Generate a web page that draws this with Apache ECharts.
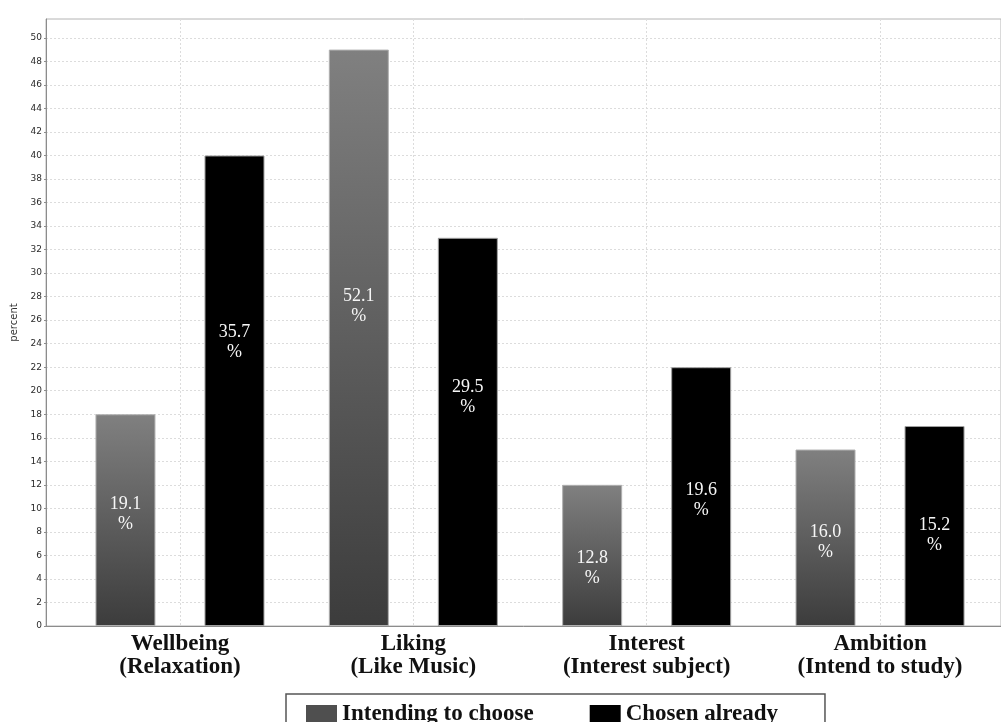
<!DOCTYPE html>
<html>
<head>
<meta charset="utf-8">
<script src="https://cdn.jsdelivr.net/npm/echarts@6/dist/echarts.min.js"></script>
<style>
  html, body { margin: 0; padding: 0; background: #ffffff; }
  #chart { width: 1001px; height: 722px; }
</style>
</head>
<body>
<div id="chart"></div>
<script>
// Reasons for choosing music, two-line category labels
const categories = [
  'Wellbeing\n(Relaxation)',
  'Liking\n(Like Music)',
  'Interest\n(Interest subject)',
  'Ambition\n(Intend to study)'
];
const seriesNames = ['Intending to choose', 'Chosen already'];

// Bar heights on the "percent" axis
const intendingBars = [18, 49, 12, 15];
const chosenBars = [40, 33, 22, 17];

// Shares printed inside each bar
const intendingShare = [19.1, 52.1, 12.8, 16.0];
const chosenShare = [35.7, 29.5, 19.6, 15.2];

// Value axis range and tick step
const yMin = 0;
const yMax = 51.6;
const yStep = 2;

// Vertical nudge (px) of each in-bar label from the bar middle
const intendingLabelShift = [-6, -32, 13, 4];
const chosenLabelShift = [-48, -35, 4, 9];

const serif = 'Liberation Serif, Times New Roman, serif';
const sans = 'DejaVu Sans, sans-serif';

// Plot band geometry: frame starts at the value axis, bars sit in four equal bands
const frameLeft = 46;
const bandLeft = 63.3;
const bandRight = 4.3;
const plotTop = 19;
const plotBottom = 96;
const bandWidth = (1001 - bandLeft - bandRight) / categories.length;

function shareLabel(shares) {
  return p => shares[p.dataIndex].toFixed(1) + '\n%';
}

function barData(values, shifts) {
  return values.map((v, i) => ({ value: v, label: { offset: [0, shifts[i]] } }));
}

const barLabel = {
  show: true,
  position: 'inside',
  color: '#f6f6f6',
  fontFamily: serif,
  fontSize: 18,
  lineHeight: 20
};

const chart = echarts.init(document.getElementById('chart'), null, { renderer: 'canvas' });

chart.setOption({
  animation: false,
  backgroundColor: '#ffffff',
  grid: [
    // frame, value axis and horizontal grid
    { left: frameLeft, right: -2, top: plotTop, bottom: plotBottom, show: true, borderColor: '#b4b4b4', borderWidth: 1 },
    // category bands holding the bars
    { left: bandLeft, right: bandRight, top: plotTop, bottom: plotBottom },
    // vertical guides through the band centres
    { left: bandLeft + bandWidth / 2, right: bandRight + bandWidth / 2, top: plotTop, bottom: plotBottom }
  ],
  xAxis: [
    {
      gridIndex: 0, type: 'value', min: 0, max: 1,
      axisLine: { show: true, lineStyle: { color: '#8c8c8c', width: 1 } },
      axisTick: { show: false }, axisLabel: { show: false }, splitLine: { show: false }
    },
    {
      gridIndex: 1, type: 'category', data: categories,
      axisLine: { show: false }, axisTick: { show: false }, splitLine: { show: false },
      axisLabel: {
        interval: 0, margin: 7,
        fontFamily: serif, fontWeight: 'bold', fontSize: 23, lineHeight: 23, color: '#111111'
      }
    },
    {
      gridIndex: 2, type: 'value', min: 0, max: categories.length - 1, interval: 1,
      axisLine: { show: false }, axisTick: { show: false }, axisLabel: { show: false },
      splitLine: { show: true, lineStyle: { type: [2, 2], color: '#dcdcdc', width: 1 } }
    }
  ],
  yAxis: [
    {
      gridIndex: 0, type: 'value', min: yMin, max: yMax, interval: yStep,
      name: 'percent', nameLocation: 'middle', nameGap: 27,
      nameTextStyle: { fontFamily: sans, fontSize: 10, color: '#333333' },
      axisLine: { show: true, lineStyle: { color: '#8c8c8c', width: 1 } },
      axisTick: { show: true, length: 2, lineStyle: { color: '#8c8c8c' } },
      axisLabel: { fontFamily: sans, fontSize: 9, color: '#2a2a2a', margin: 4, showMaxLabel: false },
      splitLine: { show: true, showMaxLine: false, lineStyle: { type: [2, 2], color: '#dcdcdc', width: 1 } }
    },
    { gridIndex: 1, type: 'value', min: yMin, max: yMax, show: false },
    { gridIndex: 2, type: 'value', min: yMin, max: yMax, show: false }
  ],
  legend: {
    left: 286, top: 694,
    orient: 'horizontal',
    selectedMode: false,
    padding: [9, 47, 9, 20],
    itemGap: 56,
    itemWidth: 31, itemHeight: 19,
    icon: 'rect',
    borderColor: '#555555', borderWidth: 1.5,
    textStyle: { fontFamily: serif, fontWeight: 'bold', fontSize: 23, color: '#111111' },
    data: [
      { name: seriesNames[0], itemStyle: { color: '#4f4f4f', borderWidth: 0 } },
      { name: seriesNames[1], itemStyle: { color: '#000000', borderWidth: 0 } }
    ]
  },
  series: [
    {
      name: seriesNames[0], type: 'bar', xAxisIndex: 1, yAxisIndex: 1,
      barWidth: 60, barGap: '81.7%',
      itemStyle: {
        color: new echarts.graphic.LinearGradient(0, 0, 0, 1, [
          { offset: 0, color: '#808080' },
          { offset: 1, color: '#3c3c3c' }
        ]),
        borderColor: '#b0b0b0', borderWidth: 1
      },
      emphasis: { disabled: true },
      label: Object.assign({}, barLabel, { formatter: shareLabel(intendingShare) }),
      data: barData(intendingBars, intendingLabelShift)
    },
    {
      name: seriesNames[1], type: 'bar', xAxisIndex: 1, yAxisIndex: 1,
      barWidth: 60, barGap: '81.7%',
      itemStyle: { color: '#000000', borderColor: '#a0a0a0', borderWidth: 1 },
      emphasis: { disabled: true },
      label: Object.assign({}, barLabel, { formatter: shareLabel(chosenShare) }),
      data: barData(chosenBars, chosenLabelShift)
    }
  ]
});
</script>
</body>
</html>
